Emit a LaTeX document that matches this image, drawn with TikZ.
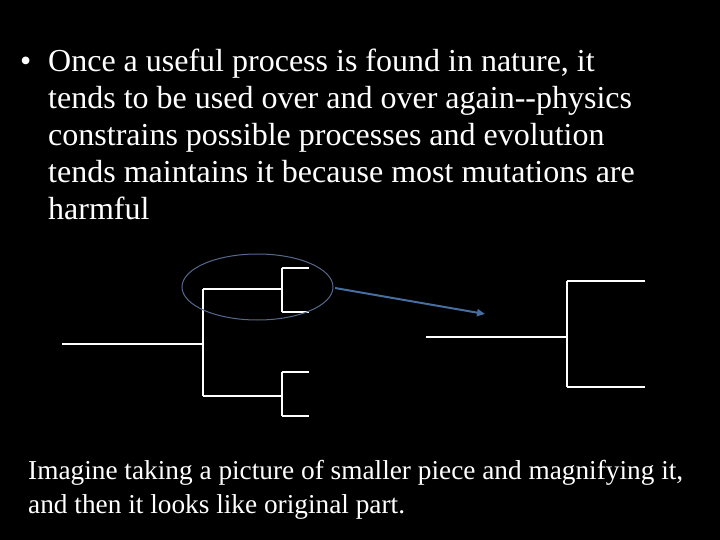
\documentclass[tikz,border=0pt]{standalone}
\usepackage{fontspec}
\setmainfont{Liberation Serif}
\usetikzlibrary{arrows.meta,shapes.geometric}
\begin{document}
\begin{tikzpicture}[x=1pt,y=-1pt,
  branch/.style={draw=white,line width=1.3pt},
  toptext/.style={anchor=base west,inner sep=0pt,text=white,font=\fontsize{32}{37}\selectfont},
  bottext/.style={anchor=base west,inner sep=0pt,text=white,font=\fontsize{27.3}{33}\selectfont},
  ring/.style={draw={rgb,255:red,85;green,105;blue,140},line width=1pt},
  pointer/.style={draw={rgb,255:red,70;green,110;blue,160},line width=2pt,-{Triangle[length=8pt,width=7pt]}}]
\fill[black] (0,0) rectangle (720,540);
\useasboundingbox (0,0) rectangle (720,540);
% top text
\node[toptext] (bul) at (20,72) {•};
\node[toptext] (l1) at (48,72) {Once a useful process is found in nature, it};
\node[toptext] (l2) at (48,109) {tends to be used over and over again{-}{-}physics};
\node[toptext] (l3) at (48,146) {constrains possible processes and evolution};
\node[toptext] (l4) at (48,183) {tends maintains it because most mutations are};
\node[toptext] (l5) at (48,220) {harmful};
% left tree
\coordinate (r0) at (62,344);
\coordinate (r1) at (203,344);
\coordinate (a1) at (203,289);
\coordinate (a2) at (203,396);
\coordinate (b1) at (282,289);
\coordinate (b2) at (282,396);
\coordinate (c1) at (282,268);
\coordinate (c2) at (282,312);
\coordinate (c3) at (282,372);
\coordinate (c4) at (282,416);
\coordinate (d1) at (309,268);
\coordinate (d2) at (309,312);
\coordinate (d3) at (309,372);
\coordinate (d4) at (309,416);
\draw[branch] (r0) -- (r1);
\draw[branch] (a1) -- (a2);
\draw[branch] (a1) -- (b1);
\draw[branch] (a2) -- (b2);
\draw[branch] (c1) -- (c2);
\draw[branch] (c3) -- (c4);
\draw[branch] (c1) -- (d1);
\draw[branch] (c2) -- (d2);
\draw[branch] (c3) -- (d3);
\draw[branch] (c4) -- (d4);
% ellipse and arrow
\node[ring,ellipse,minimum width=151pt,minimum height=66pt,inner sep=0pt] (ov) at (257.5,287) {};
\coordinate (st) at (335,288);
\coordinate (tip) at (485,314);
\draw[pointer] (st) -- (tip);
% right tree
\coordinate (s0) at (426,337);
\coordinate (s1) at (567,337);
\coordinate (t1) at (567,281);
\coordinate (t2) at (567,387);
\coordinate (u1) at (645,281);
\coordinate (u2) at (645,387);
\draw[branch] (s0) -- (s1);
\draw[branch] (t1) -- (t2);
\draw[branch] (t1) -- (u1);
\draw[branch] (t2) -- (u2);
% bottom text
\node[bottext] (m1) at (28,479) {Imagine taking a picture of smaller piece and magnifying it,};
\node[bottext] (m2) at (28,513) {and then it looks like original part.};
\end{tikzpicture}
\end{document}
